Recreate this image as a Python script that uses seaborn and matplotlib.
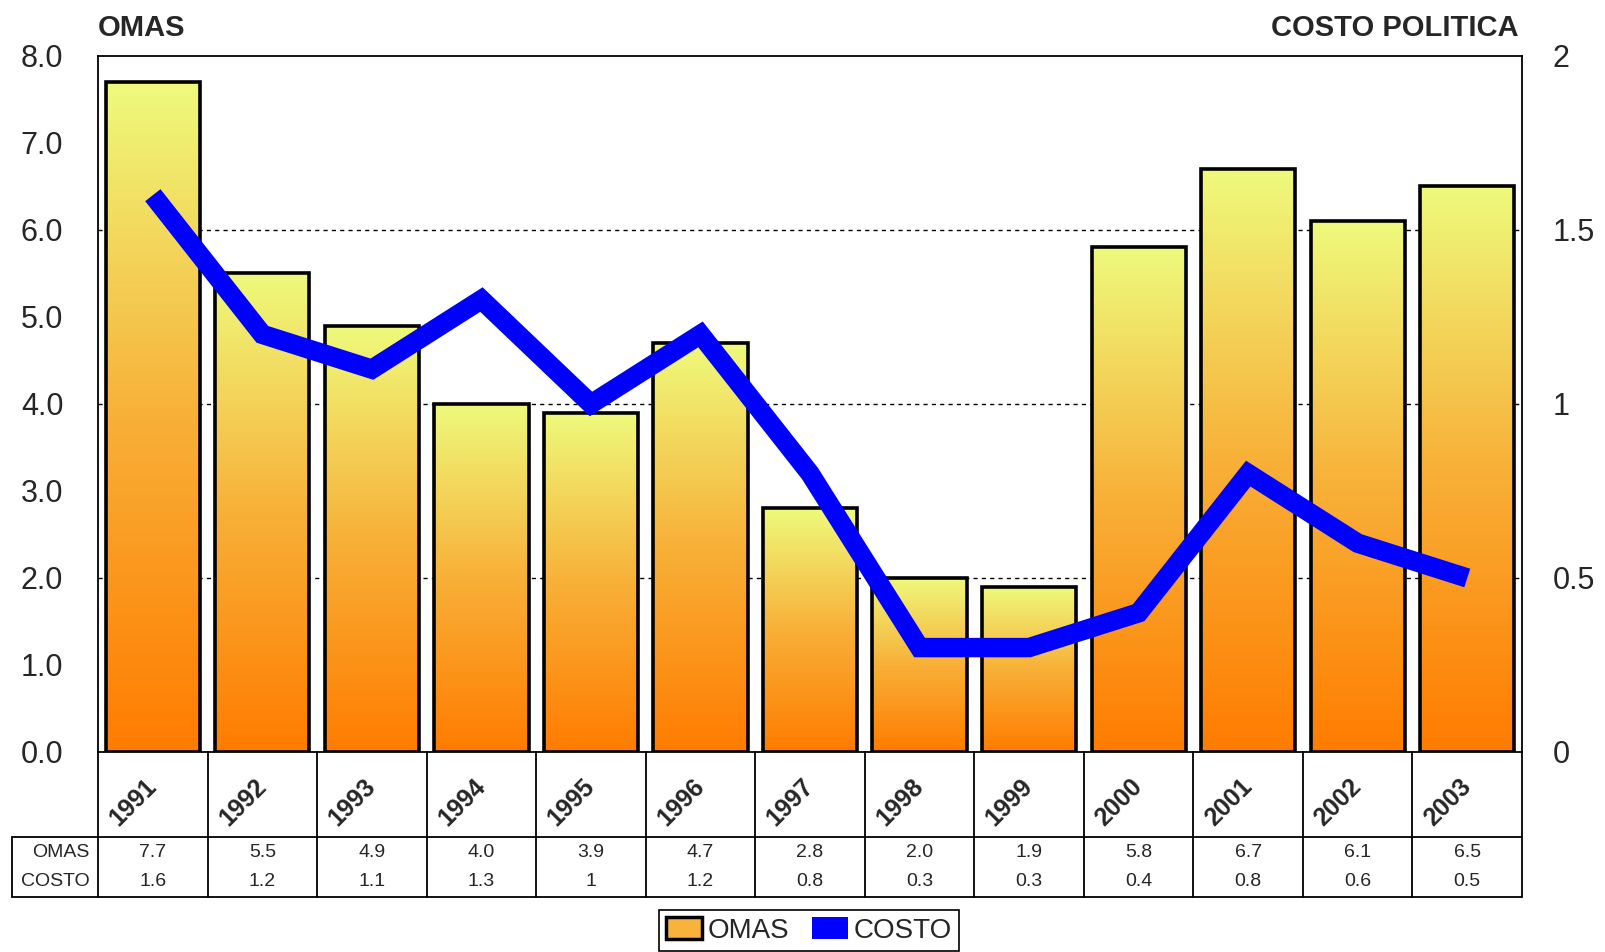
import numpy as np
import pandas as pd
import matplotlib
matplotlib.use("Agg")
import matplotlib.pyplot as plt
from matplotlib.colors import LinearSegmentedColormap
from matplotlib.patches import Patch
import seaborn as sns

# datos
years = ["1991", "1992", "1993", "1994", "1995", "1996", "1997",
         "1998", "1999", "2000", "2001", "2002", "2003"]
omas = [7.7, 5.5, 4.9, 4.0, 3.9, 4.7, 2.8, 2.0, 1.9, 5.8, 6.7, 6.1, 6.5]
costo = [1.6, 1.2, 1.1, 1.3, 1.0, 1.2, 0.8, 0.3, 0.3, 0.4, 0.8, 0.6, 0.5]
left_ticks = [0, 1, 2, 3, 4, 5, 6, 7, 8]
right_ticks = [0, 0.5, 1, 1.5, 2]

df = pd.DataFrame({"year": years, "OMAS": omas, "COSTO": costo})

sns.set_style("white")
plt.rcParams["font.family"] = ["Liberation Sans", "DejaVu Sans"]

fig = plt.figure(figsize=(16.05, 9.52), dpi=100)
ax = fig.add_axes([0.0611, 0.2101, 0.8872, 0.7311])

sns.barplot(data=df, x="year", y="OMAS", ax=ax, width=0.86,
            color="#F8B33C", edgecolor="black", linewidth=2.6, saturation=1)

# degradado amarillo -> naranja en cada barra
cmap = LinearSegmentedColormap.from_list("omas", ["#FF7C00", "#F8B038", "#EEFA7C"])
grad = np.linspace(1, 0, 256).reshape(-1, 1)
for p in ax.patches:
    x0, w, h = p.get_x(), p.get_width(), p.get_height()
    im = ax.imshow(grad, cmap=cmap, extent=[x0, x0 + w, 0, h],
                   aspect="auto", zorder=1.5, interpolation="bilinear")
    im.set_clip_path(p)
    p.set_facecolor("none")
    p.set_zorder(2)

ax.set_xlim(-0.5, len(years) - 0.5)
ax.set_ylim(0, 8)
ax.set_yticks(left_ticks)
ax.set_yticklabels([f"{v:.1f}" for v in left_ticks], fontsize=22)
ax.tick_params(axis="y", length=0, pad=25)
ax.set_xticks([])
ax.set_xlabel("")
ax.set_ylabel("")
ax.set_axisbelow(True)
ax.grid(axis="y", color="black", linestyle=(0, (3, 3)), linewidth=1)
# solo lineas de guia en 2, 4 y 6
for v, gl in zip(left_ticks, ax.yaxis.get_gridlines()):
    gl.set_visible(v in (2, 4, 6))
for s in ax.spines.values():
    s.set_color("black")
    s.set_linewidth(1.3)

# eje secundario
ax2 = ax.twinx()
sns.lineplot(x=np.arange(len(years)), y=costo, ax=ax2, color="#0000FF",
             linewidth=14, sort=False, legend=False)
for ln in ax2.lines:
    ln.set_solid_joinstyle("miter")
    ln.set_solid_capstyle("butt")
ax2.set_ylim(0, 2)
ax2.set_yticks(right_ticks)
ax2.set_yticklabels([f"{v:g}" for v in right_ticks], fontsize=22)
ax2.tick_params(axis="y", length=0, pad=22)
ax2.set_ylabel("")
ax2.grid(False)
for s in ax2.spines.values():
    s.set_visible(False)

# tabla de datos bajo el grafico
tr = ax.get_xaxis_transform()
y_row = -0.122
y_bot = -0.2083
x_tab = -0.0604
for i in range(len(years) + 1):
    ax.plot([i - 0.5, i - 0.5], [0, y_bot], transform=tr, color="black",
            lw=1.3, clip_on=False)
for yy in [y_row, y_bot]:
    ax.plot([x_tab, 1], [yy, yy], transform=ax.transAxes, color="black",
            lw=1.3, clip_on=False)
ax.plot([x_tab, x_tab], [y_row, y_bot], transform=ax.transAxes, color="black",
        lw=1.3, clip_on=False)

for i, yr in enumerate(years):
    ax.text(i - 0.18, -0.073, yr, transform=tr, rotation=45, ha="center",
            va="center", rotation_mode="anchor", fontsize=18, fontweight="bold")
    ax.text(i, -0.1437, f"{omas[i]:.1f}", transform=tr, ha="center",
            va="center", fontsize=14)
    ax.text(i, -0.1868, f"{costo[i]:g}", transform=tr, ha="center",
            va="center", fontsize=14)
ax.text(-0.006, -0.1437, "OMAS", transform=ax.transAxes, ha="right",
        va="center", fontsize=14)
ax.text(-0.006, -0.1868, "COSTO", transform=ax.transAxes, ha="right",
        va="center", fontsize=14)

# titulos de ejes
fig.text(0.061, 0.971, "OMAS", fontsize=21, fontweight="bold", va="center")
fig.text(0.9458, 0.971, "COSTO POLITICA", fontsize=21, fontweight="bold",
         va="center", ha="right")

# leyenda
handles = [Patch(facecolor="#F8B33C", edgecolor="black", linewidth=2.5),
           Patch(facecolor="#0000FF", edgecolor="none")]
leg = fig.legend(handles, ["OMAS", "COSTO"], loc="lower center",
                 bbox_to_anchor=(0.504, 0.0), ncol=2, fontsize=20,
                 frameon=True, fancybox=False, framealpha=1,
                 handlelength=1.3, handleheight=0.8, handletextpad=0.2,
                 columnspacing=0.8, borderpad=0.25, borderaxespad=0.05)
leg.get_frame().set_edgecolor("black")
leg.get_frame().set_linewidth(1.2)

fig.savefig("out.png", dpi=100, facecolor="white")
